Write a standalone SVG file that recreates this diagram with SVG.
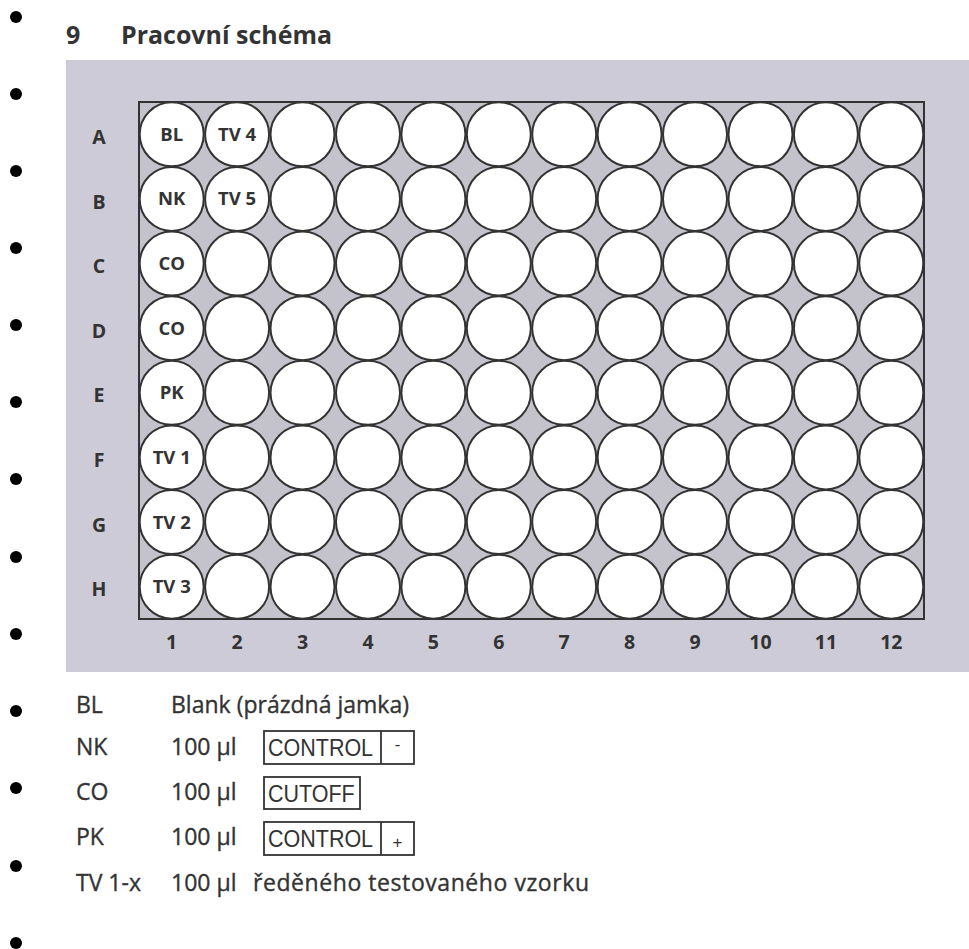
<svg xmlns="http://www.w3.org/2000/svg" width="969" height="949" viewBox="0 0 969 949">
<style>
.bul{fill:#000}
.w{fill:#fff;stroke:#333;stroke-width:2}
.wl{font-family:"Open Sans","DejaVu Sans",sans-serif;font-weight:bold;font-size:18.5px;fill:#333;text-anchor:middle}
.ax{font-family:"Open Sans","DejaVu Sans",sans-serif;font-weight:bold;font-size:19.5px;fill:#333;text-anchor:middle}
.lg{font-family:"Open Sans","DejaVu Sans",sans-serif;font-size:23px;fill:#333;stroke:#333;stroke-width:0.35}
.bx{fill:none;stroke:#333;stroke-width:1.8}
.bt{font-family:"Liberation Sans",Arial,sans-serif;font-size:21.5px;fill:#333}
.sm{font-family:"Liberation Sans",Arial,sans-serif;font-size:17px;fill:#333;text-anchor:middle}
</style>
<rect width="969" height="949" fill="#fff"/>
<g id="bullets">
<circle class="bul" cx="16" cy="17" r="6"/><circle class="bul" cx="16" cy="94" r="6"/><circle class="bul" cx="16" cy="171" r="6"/><circle class="bul" cx="16" cy="248" r="6"/><circle class="bul" cx="16" cy="325" r="6"/><circle class="bul" cx="16" cy="402" r="6"/><circle class="bul" cx="16" cy="479" r="6"/><circle class="bul" cx="16" cy="557" r="6"/><circle class="bul" cx="16" cy="634" r="6"/><circle class="bul" cx="16" cy="711" r="6"/><circle class="bul" cx="16" cy="788" r="6"/><circle class="bul" cx="16" cy="866" r="6"/><circle class="bul" cx="16" cy="943" r="6"/>
</g>
<g id="title" font-family="'Open Sans','DejaVu Sans',sans-serif" font-weight="bold" font-size="25" fill="#333">
<text x="66" y="44">9</text>
<text x="121" y="44" textLength="211" lengthAdjust="spacingAndGlyphs">Pracovní schéma</text>
</g>
<rect id="panel" x="66" y="60" width="903" height="612" fill="#cdcbd7"/>
<g id="plate">
<rect x="139" y="102" width="785" height="517" fill="#c4c3cb" stroke="#333" stroke-width="2"/>
<g id="rowA">
<g id="A1"><circle class="w" cx="171.7" cy="134.3" r="32"/><text class="wl" x="171.7" y="140.8">BL</text></g>
<g id="A2"><circle class="w" cx="237.1" cy="134.3" r="32"/><text class="wl" x="237.1" y="140.8">TV 4</text></g>
<g id="A3"><circle class="w" cx="302.5" cy="134.3" r="32"/></g>
<g id="A4"><circle class="w" cx="368" cy="134.3" r="32"/></g>
<g id="A5"><circle class="w" cx="433.4" cy="134.3" r="32"/></g>
<g id="A6"><circle class="w" cx="498.8" cy="134.3" r="32"/></g>
<g id="A7"><circle class="w" cx="564.2" cy="134.3" r="32"/></g>
<g id="A8"><circle class="w" cx="629.6" cy="134.3" r="32"/></g>
<g id="A9"><circle class="w" cx="695" cy="134.3" r="32"/></g>
<g id="A10"><circle class="w" cx="760.5" cy="134.3" r="32"/></g>
<g id="A11"><circle class="w" cx="825.9" cy="134.3" r="32"/></g>
<g id="A12"><circle class="w" cx="891.3" cy="134.3" r="32"/></g>
</g>
<g id="rowB">
<g id="B1"><circle class="w" cx="171.7" cy="198.9" r="32"/><text class="wl" x="171.7" y="205.4">NK</text></g>
<g id="B2"><circle class="w" cx="237.1" cy="198.9" r="32"/><text class="wl" x="237.1" y="205.4">TV 5</text></g>
<g id="B3"><circle class="w" cx="302.5" cy="198.9" r="32"/></g>
<g id="B4"><circle class="w" cx="368" cy="198.9" r="32"/></g>
<g id="B5"><circle class="w" cx="433.4" cy="198.9" r="32"/></g>
<g id="B6"><circle class="w" cx="498.8" cy="198.9" r="32"/></g>
<g id="B7"><circle class="w" cx="564.2" cy="198.9" r="32"/></g>
<g id="B8"><circle class="w" cx="629.6" cy="198.9" r="32"/></g>
<g id="B9"><circle class="w" cx="695" cy="198.9" r="32"/></g>
<g id="B10"><circle class="w" cx="760.5" cy="198.9" r="32"/></g>
<g id="B11"><circle class="w" cx="825.9" cy="198.9" r="32"/></g>
<g id="B12"><circle class="w" cx="891.3" cy="198.9" r="32"/></g>
</g>
<g id="rowC">
<g id="C1"><circle class="w" cx="171.7" cy="263.6" r="32"/><text class="wl" x="171.7" y="270.1">CO</text></g>
<g id="C2"><circle class="w" cx="237.1" cy="263.6" r="32"/></g>
<g id="C3"><circle class="w" cx="302.5" cy="263.6" r="32"/></g>
<g id="C4"><circle class="w" cx="368" cy="263.6" r="32"/></g>
<g id="C5"><circle class="w" cx="433.4" cy="263.6" r="32"/></g>
<g id="C6"><circle class="w" cx="498.8" cy="263.6" r="32"/></g>
<g id="C7"><circle class="w" cx="564.2" cy="263.6" r="32"/></g>
<g id="C8"><circle class="w" cx="629.6" cy="263.6" r="32"/></g>
<g id="C9"><circle class="w" cx="695" cy="263.6" r="32"/></g>
<g id="C10"><circle class="w" cx="760.5" cy="263.6" r="32"/></g>
<g id="C11"><circle class="w" cx="825.9" cy="263.6" r="32"/></g>
<g id="C12"><circle class="w" cx="891.3" cy="263.6" r="32"/></g>
</g>
<g id="rowD">
<g id="D1"><circle class="w" cx="171.7" cy="328.2" r="32"/><text class="wl" x="171.7" y="334.7">CO</text></g>
<g id="D2"><circle class="w" cx="237.1" cy="328.2" r="32"/></g>
<g id="D3"><circle class="w" cx="302.5" cy="328.2" r="32"/></g>
<g id="D4"><circle class="w" cx="368" cy="328.2" r="32"/></g>
<g id="D5"><circle class="w" cx="433.4" cy="328.2" r="32"/></g>
<g id="D6"><circle class="w" cx="498.8" cy="328.2" r="32"/></g>
<g id="D7"><circle class="w" cx="564.2" cy="328.2" r="32"/></g>
<g id="D8"><circle class="w" cx="629.6" cy="328.2" r="32"/></g>
<g id="D9"><circle class="w" cx="695" cy="328.2" r="32"/></g>
<g id="D10"><circle class="w" cx="760.5" cy="328.2" r="32"/></g>
<g id="D11"><circle class="w" cx="825.9" cy="328.2" r="32"/></g>
<g id="D12"><circle class="w" cx="891.3" cy="328.2" r="32"/></g>
</g>
<g id="rowE">
<g id="E1"><circle class="w" cx="171.7" cy="392.8" r="32"/><text class="wl" x="171.7" y="399.3">PK</text></g>
<g id="E2"><circle class="w" cx="237.1" cy="392.8" r="32"/></g>
<g id="E3"><circle class="w" cx="302.5" cy="392.8" r="32"/></g>
<g id="E4"><circle class="w" cx="368" cy="392.8" r="32"/></g>
<g id="E5"><circle class="w" cx="433.4" cy="392.8" r="32"/></g>
<g id="E6"><circle class="w" cx="498.8" cy="392.8" r="32"/></g>
<g id="E7"><circle class="w" cx="564.2" cy="392.8" r="32"/></g>
<g id="E8"><circle class="w" cx="629.6" cy="392.8" r="32"/></g>
<g id="E9"><circle class="w" cx="695" cy="392.8" r="32"/></g>
<g id="E10"><circle class="w" cx="760.5" cy="392.8" r="32"/></g>
<g id="E11"><circle class="w" cx="825.9" cy="392.8" r="32"/></g>
<g id="E12"><circle class="w" cx="891.3" cy="392.8" r="32"/></g>
</g>
<g id="rowF">
<g id="F1"><circle class="w" cx="171.7" cy="457.4" r="32"/><text class="wl" x="171.7" y="463.9">TV 1</text></g>
<g id="F2"><circle class="w" cx="237.1" cy="457.4" r="32"/></g>
<g id="F3"><circle class="w" cx="302.5" cy="457.4" r="32"/></g>
<g id="F4"><circle class="w" cx="368" cy="457.4" r="32"/></g>
<g id="F5"><circle class="w" cx="433.4" cy="457.4" r="32"/></g>
<g id="F6"><circle class="w" cx="498.8" cy="457.4" r="32"/></g>
<g id="F7"><circle class="w" cx="564.2" cy="457.4" r="32"/></g>
<g id="F8"><circle class="w" cx="629.6" cy="457.4" r="32"/></g>
<g id="F9"><circle class="w" cx="695" cy="457.4" r="32"/></g>
<g id="F10"><circle class="w" cx="760.5" cy="457.4" r="32"/></g>
<g id="F11"><circle class="w" cx="825.9" cy="457.4" r="32"/></g>
<g id="F12"><circle class="w" cx="891.3" cy="457.4" r="32"/></g>
</g>
<g id="rowG">
<g id="G1"><circle class="w" cx="171.7" cy="522.1" r="32"/><text class="wl" x="171.7" y="528.6">TV 2</text></g>
<g id="G2"><circle class="w" cx="237.1" cy="522.1" r="32"/></g>
<g id="G3"><circle class="w" cx="302.5" cy="522.1" r="32"/></g>
<g id="G4"><circle class="w" cx="368" cy="522.1" r="32"/></g>
<g id="G5"><circle class="w" cx="433.4" cy="522.1" r="32"/></g>
<g id="G6"><circle class="w" cx="498.8" cy="522.1" r="32"/></g>
<g id="G7"><circle class="w" cx="564.2" cy="522.1" r="32"/></g>
<g id="G8"><circle class="w" cx="629.6" cy="522.1" r="32"/></g>
<g id="G9"><circle class="w" cx="695" cy="522.1" r="32"/></g>
<g id="G10"><circle class="w" cx="760.5" cy="522.1" r="32"/></g>
<g id="G11"><circle class="w" cx="825.9" cy="522.1" r="32"/></g>
<g id="G12"><circle class="w" cx="891.3" cy="522.1" r="32"/></g>
</g>
<g id="rowH">
<g id="H1"><circle class="w" cx="171.7" cy="586.7" r="32"/><text class="wl" x="171.7" y="593.2">TV 3</text></g>
<g id="H2"><circle class="w" cx="237.1" cy="586.7" r="32"/></g>
<g id="H3"><circle class="w" cx="302.5" cy="586.7" r="32"/></g>
<g id="H4"><circle class="w" cx="368" cy="586.7" r="32"/></g>
<g id="H5"><circle class="w" cx="433.4" cy="586.7" r="32"/></g>
<g id="H6"><circle class="w" cx="498.8" cy="586.7" r="32"/></g>
<g id="H7"><circle class="w" cx="564.2" cy="586.7" r="32"/></g>
<g id="H8"><circle class="w" cx="629.6" cy="586.7" r="32"/></g>
<g id="H9"><circle class="w" cx="695" cy="586.7" r="32"/></g>
<g id="H10"><circle class="w" cx="760.5" cy="586.7" r="32"/></g>
<g id="H11"><circle class="w" cx="825.9" cy="586.7" r="32"/></g>
<g id="H12"><circle class="w" cx="891.3" cy="586.7" r="32"/></g>
</g>
</g>
<g id="row-labels">
<text class="ax" x="99" y="144">A</text>
<text class="ax" x="99" y="209">B</text>
<text class="ax" x="99" y="273">C</text>
<text class="ax" x="99" y="338">D</text>
<text class="ax" x="99" y="402">E</text>
<text class="ax" x="99" y="467">F</text>
<text class="ax" x="99" y="532">G</text>
<text class="ax" x="99" y="596">H</text>
</g>
<g id="col-labels">
<text class="ax" x="171.7" y="649">1</text>
<text class="ax" x="237.1" y="649">2</text>
<text class="ax" x="302.5" y="649">3</text>
<text class="ax" x="368" y="649">4</text>
<text class="ax" x="433.4" y="649">5</text>
<text class="ax" x="498.8" y="649">6</text>
<text class="ax" x="564.2" y="649">7</text>
<text class="ax" x="629.6" y="649">8</text>
<text class="ax" x="695" y="649">9</text>
<text class="ax" x="760.5" y="649">10</text>
<text class="ax" x="825.9" y="649">11</text>
<text class="ax" x="891.3" y="649">12</text>
</g>
<g id="legend">
<g id="leg-BL"><text class="lg" x="76" y="713">BL</text><text class="lg" x="171" y="713" textLength="238" lengthAdjust="spacing">Blank (prázdná jamka)</text></g>
<g id="leg-NK"><text class="lg" x="76" y="755">NK</text><text class="lg" x="171" y="755">100 µl</text>
<rect class="bx" x="264" y="731" width="150" height="33"/><line class="bx" x1="381" y1="731" x2="381" y2="764"/>
<text class="bt" transform="translate(268,756) scale(1,1.15)">CONTROL</text><text class="sm" x="397.5" y="750">-</text></g>
<g id="leg-CO"><text class="lg" x="76" y="800">CO</text><text class="lg" x="171" y="800">100 µl</text>
<rect class="bx" x="264" y="777" width="96" height="32"/>
<text class="bt" transform="translate(268,802) scale(1,1.15)">CUTOFF</text></g>
<g id="leg-PK"><text class="lg" x="76" y="845">PK</text><text class="lg" x="171" y="845">100 µl</text>
<rect class="bx" x="264" y="822" width="150" height="33"/><line class="bx" x1="381" y1="822" x2="381" y2="855"/>
<text class="bt" transform="translate(268,847) scale(1,1.15)">CONTROL</text><text class="sm" x="397.5" y="848">+</text></g>
<g id="leg-TV"><text class="lg" x="76" y="891">TV 1-x</text><text class="lg" x="171" y="891">100 µl</text><text class="lg" x="253" y="891" textLength="336" lengthAdjust="spacing">ředěného testovaného vzorku</text></g>
</g>
</svg>
